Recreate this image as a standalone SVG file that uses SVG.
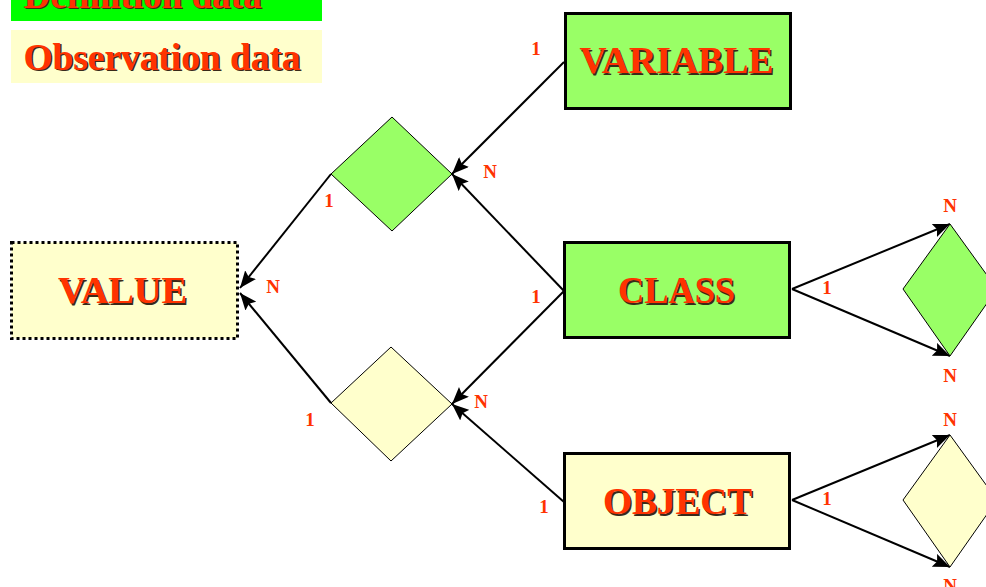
<svg xmlns="http://www.w3.org/2000/svg" width="986" height="587" viewBox="0 0 986 587" font-family="'Liberation Serif', 'Times New Roman', serif">
  <style>
    text { font-family: 'Liberation Serif', 'Times New Roman', serif; font-weight: bold; }
    .big { font-size: 37px; text-anchor: middle; }
    .leg { font-size: 37px; }
    .fg { fill: #FF3300; }
    .sh { fill: #3a2a1a; }
    .card { font-size: 19px; fill: #FF3300; text-anchor: middle; }
    .ent { stroke: #000; stroke-width: 3; }
    .green { fill: #99FF66; }
    .yellow { fill: #FFFFCC; }
    .rel { stroke: #000; stroke-width: 1; }
    .link { stroke: #000; stroke-width: 2; fill: none; marker-end: url(#arrow); }
  </style>
  <defs>
    <marker id="arrow" markerUnits="userSpaceOnUse" markerWidth="18" markerHeight="14" refX="17" refY="7" orient="auto">
      <path d="M0,0 L17,7 L0,14 L3,7 z" fill="#000"/>
    </marker>
  </defs>

  <rect width="986" height="587" fill="#fff"/>

  <!-- legend -->
  <g id="legend-definition">
    <rect x="11" y="-20" width="311" height="41" fill="#00FF00"/>
    <text class="leg sh" x="25" y="9" textLength="238" lengthAdjust="spacingAndGlyphs">Definition data</text>
    <text class="leg fg" x="23.5" y="7.5" textLength="238" lengthAdjust="spacingAndGlyphs">Definition data</text>
  </g>
  <g id="legend-observation">
    <rect x="11" y="30" width="311" height="53" fill="#FFFFCC"/>
    <text class="leg sh" x="25" y="71" textLength="277" lengthAdjust="spacingAndGlyphs">Observation data</text>
    <text class="leg fg" x="23.5" y="69.5" textLength="277" lengthAdjust="spacingAndGlyphs">Observation data</text>
  </g>

  <!-- connectors -->
  <g id="connectors">
    <line class="link" x1="564" y1="62" x2="452" y2="174"/>
    <line class="link" x1="564" y1="291" x2="452" y2="174"/>
    <line class="link" x1="564" y1="291" x2="452" y2="404"/>
    <line class="link" x1="564" y1="502" x2="452" y2="404"/>
    <line class="link" x1="331" y1="174" x2="240" y2="288"/>
    <line class="link" x1="331" y1="403" x2="240" y2="293"/>
    <line class="link" x1="792" y1="289" x2="950" y2="224"/>
    <line class="link" x1="792" y1="289" x2="950" y2="356"/>
    <line class="link" x1="792" y1="500" x2="950" y2="435"/>
    <line class="link" x1="792" y1="500" x2="950" y2="567"/>
  </g>

  <!-- relationship diamonds -->
  <g id="rel-variable-class-value">
    <polygon class="rel green" points="392,117 452,174 392,231 331,174"/>
  </g>
  <g id="rel-class-object-value">
    <polygon class="rel yellow" points="391,347 452,404 391,461 331,403"/>
  </g>
  <g id="rel-class-self">
    <polygon class="rel green" points="950,224 997,289 950,356 903,289"/>
  </g>
  <g id="rel-object-self">
    <polygon class="rel yellow" points="950,435 997,500 950,567 903,500"/>
  </g>

  <!-- entities -->
  <g id="variable">
    <rect class="ent green" x="565.5" y="13.5" width="225" height="95"/>
    <text class="big sh" x="678" y="74.5" textLength="194" lengthAdjust="spacingAndGlyphs">VARIABLE</text>
    <text class="big fg" x="676.5" y="73" textLength="194" lengthAdjust="spacingAndGlyphs">VARIABLE</text>
  </g>
  <g id="class">
    <rect class="ent green" x="564.5" y="242.5" width="225" height="95"/>
    <text class="big sh" x="678" y="304.5" textLength="117" lengthAdjust="spacingAndGlyphs">CLASS</text>
    <text class="big fg" x="676.5" y="303" textLength="117" lengthAdjust="spacingAndGlyphs">CLASS</text>
  </g>
  <g id="object">
    <rect class="ent yellow" x="564.5" y="453.5" width="225" height="95"/>
    <text class="big sh" x="679" y="515.5" textLength="149" lengthAdjust="spacingAndGlyphs">OBJECT</text>
    <text class="big fg" x="677.5" y="514" textLength="149" lengthAdjust="spacingAndGlyphs">OBJECT</text>
  </g>
  <g id="value">
    <rect x="11.5" y="242.5" width="226" height="96" fill="#FFFFCC" stroke="#000" stroke-width="3" stroke-dasharray="3,3"/>
    <text class="big sh" x="124" y="304.5" textLength="129" lengthAdjust="spacingAndGlyphs">VALUE</text>
    <text class="big fg" x="122.5" y="303" textLength="129" lengthAdjust="spacingAndGlyphs">VALUE</text>
  </g>

  <!-- cardinalities -->
  <g id="cardinalities">
    <text class="card" x="536" y="55">1</text>
    <text class="card" x="490" y="178">N</text>
    <text class="card" x="329" y="207">1</text>
    <text class="card" x="273" y="293">N</text>
    <text class="card" x="536" y="303">1</text>
    <text class="card" x="481" y="408">N</text>
    <text class="card" x="310" y="426">1</text>
    <text class="card" x="544" y="513">1</text>
    <text class="card" x="827" y="294">1</text>
    <text class="card" x="950" y="212">N</text>
    <text class="card" x="950" y="382">N</text>
    <text class="card" x="827" y="505">1</text>
    <text class="card" x="950" y="426">N</text>
    <text class="card" x="950" y="592">N</text>
  </g>
</svg>
